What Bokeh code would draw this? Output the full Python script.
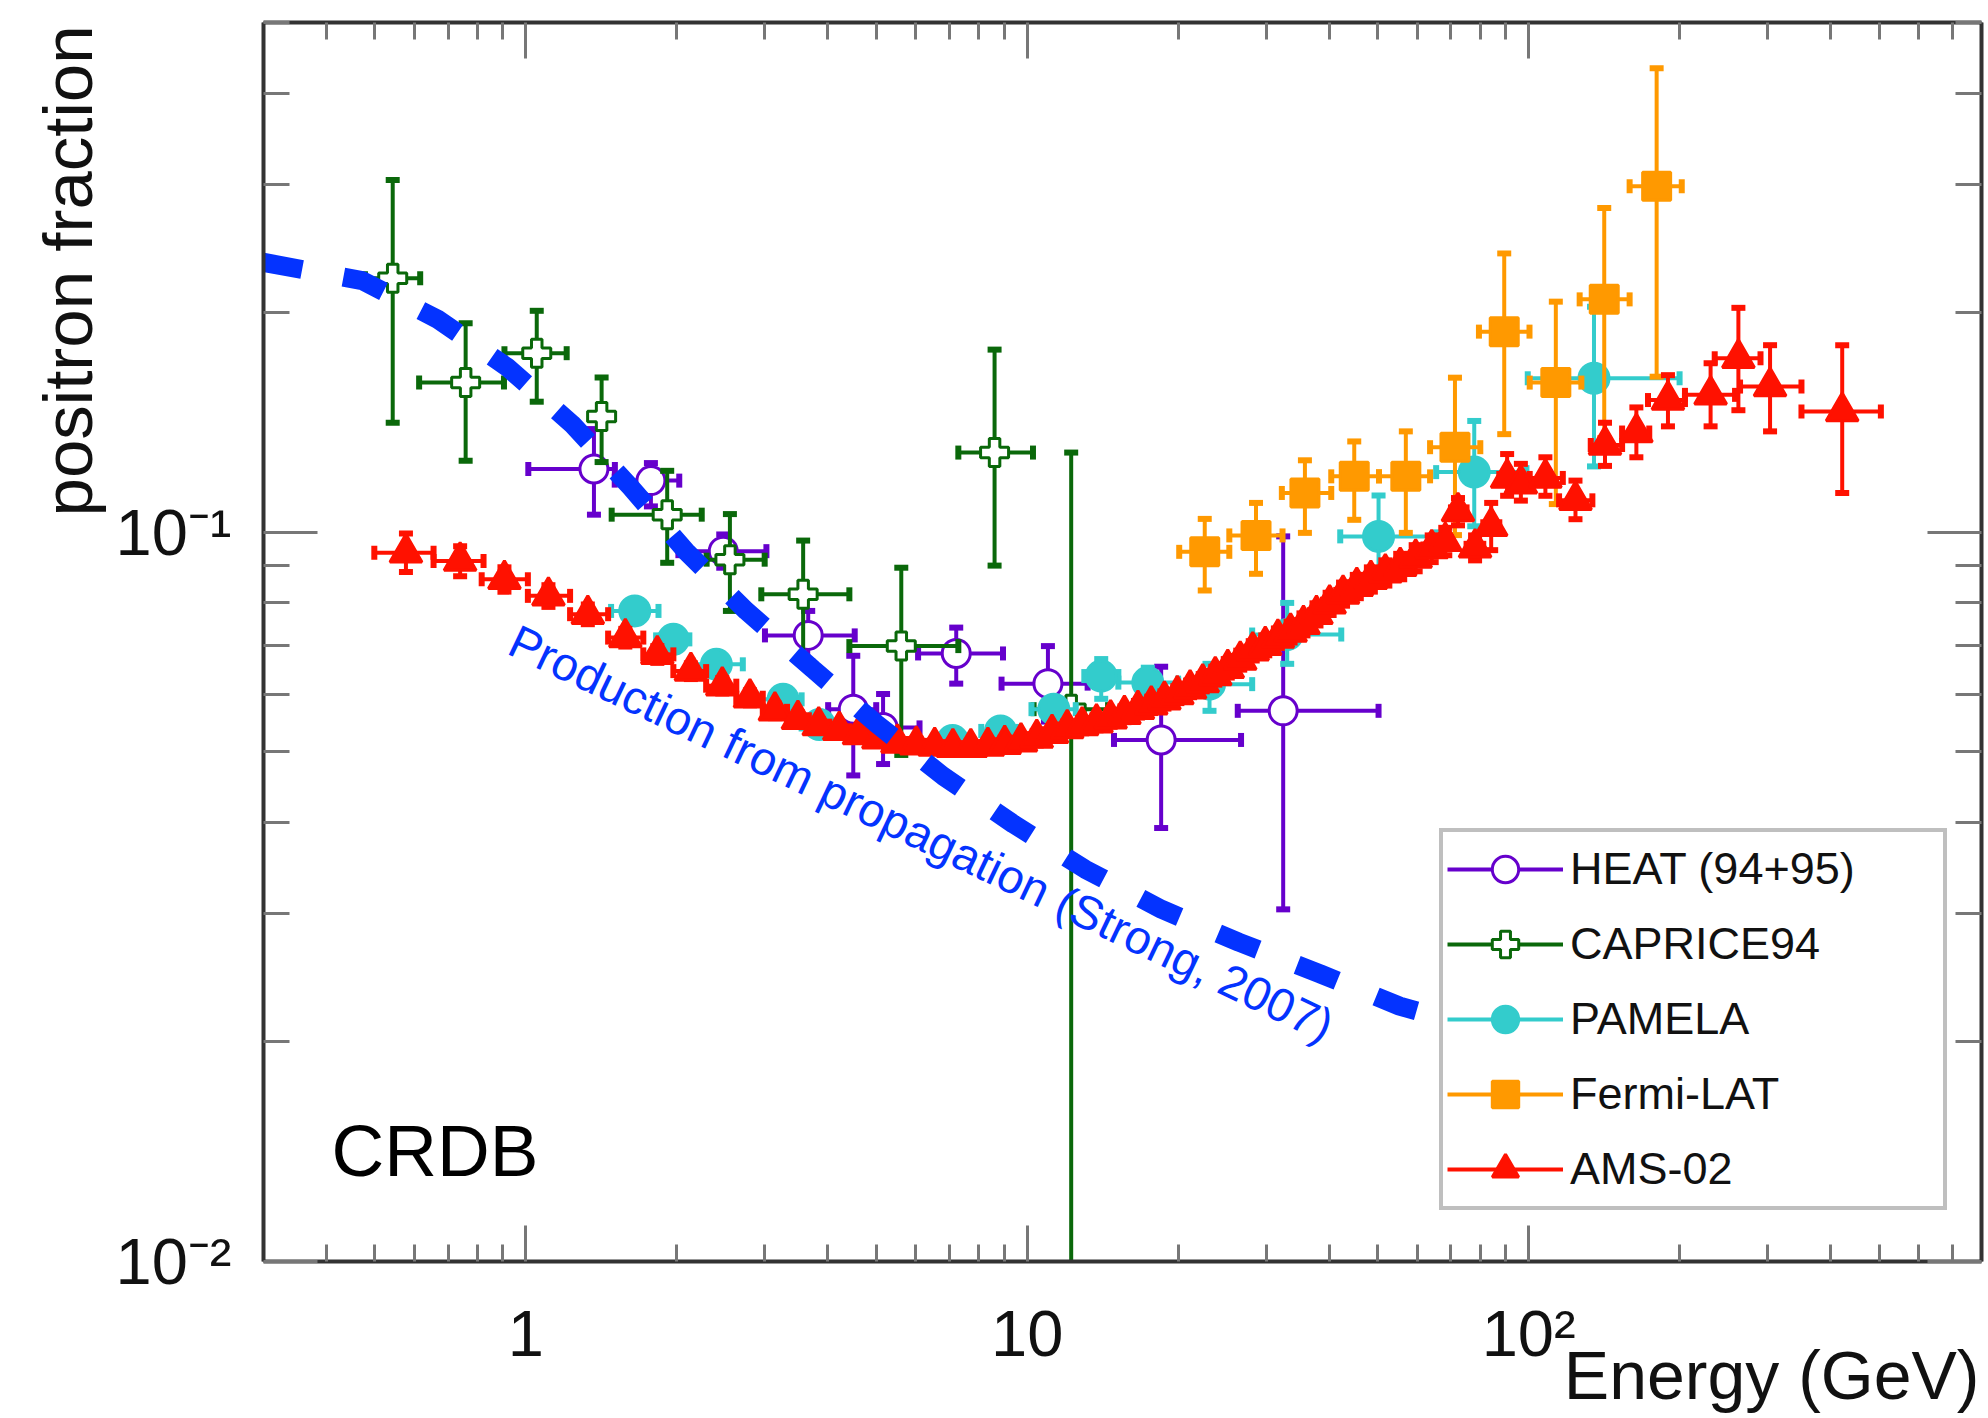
import math
from bokeh.plotting import figure
from bokeh.models import (Range1d, FixedTicker, LogAxis, Label, Legend, LegendItem,
                          CustomJSTickFormatter, Title)
from bokeh.embed import file_html
from bokeh.resources import INLINE

FONT = "Liberation Sans"

# ---------------- axes ----------------
x_major = [1, 10, 100]
x_minor = [0.3, 0.4, 0.5, 0.6, 0.7, 0.8, 0.9, 2, 3, 4, 5, 6, 7, 8, 9,
           20, 30, 40, 50, 60, 70, 80, 90, 200, 300, 400, 500, 600, 700, 800]
x_tick_labels = ["1", "10", "10²"]
y_major = [0.01, 0.1]
y_minor = [0.02, 0.03, 0.04, 0.05, 0.06, 0.07, 0.08, 0.09, 0.2, 0.3, 0.4, 0.5]
y_tick_labels = ["10⁻²", "10⁻¹"]

# ---------------- data ----------------
heat_e = [1.368, 1.777, 2.477, 3.659, 4.50, 5.16, 7.22, 11.0, 18.5, 32.4]
heat_elo = [1.012, 1.505, 2.016, 3.00, 4.01, 4.37, 6.06, 8.89, 14.9, 26.3]
heat_ehi = [1.506, 2.024, 3.02, 4.53, 5.0, 6.10, 8.95, 13.2, 26.7, 50.2]
heat_f = [0.1221, 0.1177, 0.0942, 0.0722, 0.0572, 0.054, 0.0682, 0.062, 0.0519, 0.0569]
heat_flo = [0.1057, 0.1085, 0.0894, 0.0665, 0.0464, 0.0481, 0.0620, 0.055, 0.0393, 0.0304]
heat_fhi = [0.1385, 0.1244, 0.0993, 0.078, 0.0677, 0.0600, 0.074, 0.0698, 0.0654, 0.0987]

cap_e = [0.543, 0.759, 1.052, 1.417, 1.915, 2.554, 3.575, 5.61, 8.61, 12.24]
cap_elo = [0.478, 0.613, 0.907, 1.417, 1.484, 2.295, 2.95, 4.42, 7.29, 10.3]
cap_ehi = [0.616, 0.905, 1.207, 1.417, 2.244, 2.996, 4.42, 7.29, 10.27, 14.5]
cap_f = [0.223, 0.1604, 0.176, 0.1441, 0.1057, 0.0917, 0.0822, 0.0698, 0.1286, 0.0572]
cap_flo = [0.1413, 0.1253, 0.151, 0.1248, 0.0908, 0.078, 0.067, 0.0495, 0.0900, 0.005]
cap_fhi = [0.304, 0.1934, 0.2012, 0.163, 0.1214, 0.1059, 0.0974, 0.0894, 0.178, 0.1286]

pam_e = [1.65, 1.97, 2.40, 3.26, 3.85, 7.1, 8.85, 11.3, 14.05, 17.4, 23.1, 33.0, 50.2, 77.9, 135]
pam_elo = [1.48, 1.82, 2.15, 2.95, 3.55, 6.5, 8.1, 10.2, 13.0, 15.2, 20.0, 28.1, 42.1, 65.4, 99.6]
pam_ehi = [1.84, 2.12, 2.71, 3.55, 4.2, 7.7, 9.6, 12.5, 15.2, 20.0, 28.1, 42.3, 65.4, 99.0, 200]
pam_f = [0.078, 0.0713, 0.0659, 0.059, 0.0545, 0.0518, 0.0534, 0.0572, 0.0635, 0.0622,
         0.0619, 0.0724, 0.0987, 0.1209, 0.1626]
pam_flo = [0.0768, 0.0703, 0.0649, 0.058, 0.0535, 0.0508, 0.0522, 0.0555, 0.0591, 0.060,
           0.0569, 0.066, 0.0866, 0.1019, 0.1231]
pam_fhi = [0.0792, 0.0723, 0.0669, 0.060, 0.0555, 0.0528, 0.0546, 0.0589, 0.0670, 0.0652,
           0.0660, 0.080, 0.1123, 0.1421, 0.2038]

fermi_e = [22.6, 28.6, 35.8, 44.9, 56.9, 71.3, 89.4, 113.3, 141.5, 180]
fermi_elo = [20.1, 25.3, 32.2, 40.4, 50.3, 63.6, 79.6, 100.5, 126.4, 159]
fermi_ehi = [25.3, 32.3, 40.4, 50.3, 63.6, 80.1, 100.4, 127.4, 159, 202]
fermi_f = [0.094, 0.099, 0.1132, 0.1193, 0.1193, 0.1308, 0.1884, 0.1604, 0.2086, 0.2981]
fermi_flo = [0.0832, 0.0877, 0.0998, 0.104, 0.0998, 0.0991, 0.1363, 0.1093, 0.1346, 0.1634]
fermi_fhi = [0.1043, 0.1097, 0.1255, 0.1332, 0.1375, 0.1629, 0.2412, 0.2071, 0.2783, 0.4326]

ams_e = [0.577, 0.740, 0.907, 1.11, 1.33, 1.58, 1.83, 2.135, 2.466, 2.80, 3.14, 3.49, 3.84,
         4.22, 4.62, 5.05, 5.51, 6.01, 6.54, 7.11, 7.72, 8.35, 9.02, 9.72, 10.45, 11.21,
         12.02, 12.87, 13.75, 14.67, 15.63, 16.63, 17.68, 18.78, 19.93, 21.13, 22.39,
         23.72, 25.12, 26.6, 28.17, 29.84, 31.62, 33.52, 35.56, 37.75, 40.1, 42.65, 45.43,
         48.46, 51.79, 55.45, 59.53, 64.08, 68.2,
         72.3, 78.2, 84.2, 90.6, 96.5, 108, 124, 142, 164, 189.6, 230.6, 262, 303, 422]
ams_elo = [0.499, 0.655, 0.817, 1.01, 1.226, 1.46, 1.716, 1.97, 2.29, 2.63, 2.97, 3.32, 3.67,
           4.03, 4.42, 4.83, 5.27, 5.76, 6.27, 6.82, 7.41, 8.03, 8.68, 9.36, 10.08, 10.82,
           11.61, 12.44, 13.30, 14.20, 15.14, 16.12, 17.15, 18.22, 19.34, 20.52, 21.75,
           23.04, 24.40, 25.84, 27.36, 28.98, 30.70, 32.54, 34.51, 36.62, 38.89, 41.34, 44.00,
           46.90, 50.07, 53.55, 57.40, 61.70, 66.50,
           70.0, 75.2, 81.2, 87.4, 93.8, 100.5, 115, 133, 153.6, 173, 205, 235, 264, 350]
ams_ehi = [0.655, 0.824, 1.01, 1.226, 1.46, 1.716, 1.97, 2.29, 2.63, 2.97, 3.32, 3.67, 4.03,
           4.42, 4.83, 5.27, 5.76, 6.27, 6.82, 7.41, 8.03, 8.68, 9.36, 10.08, 10.82, 11.61,
           12.44, 13.30, 14.20, 15.14, 16.12, 17.15, 18.22, 19.34, 20.52, 21.75, 23.04,
           24.40, 25.84, 27.36, 28.98, 30.70, 32.54, 34.51, 36.62, 38.89, 41.34, 44.00, 46.90,
           50.07, 53.55, 57.40, 61.70, 66.50, 70.0,
           75.2, 81.2, 87.4, 93.8, 100.5, 117, 134, 153.6, 174, 205, 258, 290, 350, 504]
ams_f = [0.0937, 0.0913, 0.0862, 0.0818, 0.0772, 0.0717, 0.068, 0.0645, 0.0616, 0.0593, 0.0569,
         0.0554, 0.0543,
         0.0535, 0.0528, 0.0521, 0.0514, 0.0511, 0.0509, 0.0507, 0.0507, 0.0509, 0.0512, 0.0516,
         0.0522, 0.0530, 0.0538, 0.0543, 0.0548, 0.0555, 0.0563, 0.0572, 0.0580, 0.0589, 0.0599,
         0.0610, 0.0622, 0.0636, 0.0651, 0.0668, 0.0688, 0.0700, 0.0716, 0.0730, 0.0748, 0.0772,
         0.0798, 0.0823, 0.0843, 0.0862, 0.0880, 0.0898, 0.0922, 0.0950, 0.0972,
         0.1068, 0.0952, 0.1019, 0.1187, 0.1165, 0.1187, 0.1106, 0.1317, 0.1370, 0.1518, 0.1543,
         0.1732, 0.1584, 0.1464]
ams_flo = [0.0882, 0.0870, 0.0829, 0.0790, 0.0748, 0.0697, 0.0662, 0.0629, 0.0601, 0.0579, 0.0556,
           0.0542, 0.0532,
           0.0525, 0.0518, 0.0511, 0.0504, 0.0501, 0.0499, 0.0497, 0.0497, 0.0499, 0.0501, 0.0505,
           0.0510, 0.0518, 0.0526, 0.0530, 0.0535, 0.0541, 0.0549, 0.0557, 0.0565, 0.0573, 0.0583,
           0.0594, 0.0605, 0.0618, 0.0632, 0.0648, 0.0667, 0.0678, 0.0694, 0.0706, 0.0722, 0.0745,
           0.0770, 0.0793, 0.0812, 0.0829, 0.0845, 0.0862, 0.0884, 0.0910, 0.0930,
           0.1022, 0.0915, 0.0945, 0.1122, 0.1105, 0.1122, 0.1042, 0.1233, 0.1267, 0.1397, 0.1397,
           0.1470, 0.1375, 0.1132]
ams_fhi = [0.0996, 0.0957, 0.0895, 0.0846, 0.0796, 0.0737, 0.0698, 0.0661, 0.0631, 0.0607, 0.0582,
           0.0566, 0.0554,
           0.0545, 0.0538, 0.0531, 0.0524, 0.0521, 0.0519, 0.0517, 0.0517, 0.0519, 0.0523, 0.0527,
           0.0534, 0.0542, 0.0550, 0.0556, 0.0561, 0.0569, 0.0577, 0.0587, 0.0595, 0.0605, 0.0615,
           0.0626, 0.0639, 0.0654, 0.0670, 0.0688, 0.0709, 0.0722, 0.0738, 0.0754, 0.0774, 0.0799,
           0.0826, 0.0853, 0.0874, 0.0895, 0.0915, 0.0934, 0.0960, 0.0990, 0.1014,
           0.1114, 0.0990, 0.1097, 0.1280, 0.1241, 0.1267, 0.1177, 0.1413, 0.1483, 0.1642, 0.1705,
           0.2031, 0.1805, 0.1805]

strong_e = [0.295, 0.472, 0.666, 0.920, 1.237, 1.617, 2.089, 2.754, 3.74, 5.01, 6.80, 9.39,
            13.06, 18.54, 26.45, 38.4, 55.3, 62.0]
strong_f = [0.235, 0.2213, 0.1961, 0.1683, 0.1407, 0.1154, 0.0941, 0.078, 0.0649, 0.0546,
            0.0463, 0.0398, 0.0345, 0.0304, 0.0274, 0.0248, 0.0224, 0.0219]

# ---------------- figure ----------------
p = figure(width=1986, height=1416, x_axis_type="log", y_axis_type="log",
           x_range=Range1d(0.3, 800), y_range=Range1d(0.01, 0.5),
           output_backend="svg", toolbar_location=None,
           min_border_left=263, min_border_right=5, min_border_top=22, min_border_bottom=155)
p.xgrid.visible = False
p.ygrid.visible = False
p.outline_line_color = None
p.background_fill_color = "white"
p.border_fill_color = "white"

xt = FixedTicker(ticks=x_major, minor_ticks=x_minor)
yt = FixedTicker(ticks=y_major, minor_ticks=y_minor)

AX_LINE = "#333333"
TICK = "#777777"


def style_axis(ax, major_len, minor_len):
    ax.axis_line_color = AX_LINE
    ax.axis_line_width = 4
    ax.major_tick_in = major_len
    ax.major_tick_out = 0
    ax.minor_tick_in = minor_len
    ax.minor_tick_out = 0
    ax.major_tick_line_color = TICK
    ax.minor_tick_line_color = TICK
    ax.major_tick_line_width = 3
    ax.minor_tick_line_width = 3
    ax.major_label_text_font = FONT
    ax.major_label_text_font_size = "65px"
    ax.major_label_text_color = "#111111"


bx = p.xaxis[0]
bx.ticker = xt
style_axis(bx, 36, 17)
bx.major_label_overrides = dict(zip(x_major, x_tick_labels))
bx.major_label_standoff = 35

ly = p.yaxis[0]
ly.ticker = yt
style_axis(ly, 54, 26)
ly.major_label_overrides = dict(zip(y_major, y_tick_labels))
ly.major_label_standoff = 32

p.add_layout(Title(text="Energy (GeV)", align="right", vertical_align="top", offset=2,
                   standoff=-72, text_font=FONT, text_font_size="68px",
                   text_font_style="normal", text_color="#111111"), "below")
p.add_layout(Title(text="positron fraction", align="right", vertical_align="bottom", offset=3,
                   standoff=12, text_font=FONT, text_font_size="69px",
                   text_font_style="normal", text_color="#111111"), "left")

top = LogAxis(ticker=xt, formatter=CustomJSTickFormatter(code="return ''"))
style_axis(top, 36, 17)
top.major_label_text_font_size = "1px"
top.major_label_standoff = 0
p.add_layout(top, "above")

ry = LogAxis(ticker=yt, formatter=CustomJSTickFormatter(code="return ''"))
style_axis(ry, 54, 26)
ry.major_label_text_font_size = "1px"
ry.major_label_standoff = 0
p.add_layout(ry, "right")

ERR_W = 4
CAP_S = 14
CAP_W = 6


def draw_series(E, Elo, Ehi, F, Flo, Fhi, color, marker, msize, fill):
    p.segment(x0=E, y0=Flo, x1=E, y1=Fhi, line_color=color, line_width=ERR_W)
    hs = p.segment(x0=Elo, y0=F, x1=Ehi, y1=F, line_color=color, line_width=ERR_W)
    ycx = [e for e, lo, f in zip(E, Flo, F) if lo < f] + [e for e, hi, f in zip(E, Fhi, F) if hi > f]
    ycy = [lo for lo, f in zip(Flo, F) if lo < f] + [hi for hi, f in zip(Fhi, F) if hi > f]
    p.scatter(x=ycx, y=ycy, marker="dash", size=CAP_S, line_color=color, line_width=CAP_W)
    xcx = [lo for lo, e in zip(Elo, E) if lo < e] + [hi for hi, e in zip(Ehi, E) if hi > e]
    xcy = [f for lo, e, f in zip(Elo, E, F) if lo < e] + [f for hi, e, f in zip(Ehi, E, F) if hi > e]
    p.scatter(x=xcx, y=xcy, marker="dash", angle=math.pi / 2, size=CAP_S,
              line_color=color, line_width=CAP_W)
    mk = p.scatter(x=E, y=F, marker=marker, size=msize, fill_color=fill,
                   line_color=color, line_width=3)
    return hs, mk


C_HEAT = "#6600cc"
C_CAP = "#0a680a"
C_PAM = "#33cccc"
C_FERMI = "#ff9900"
C_AMS = "#ff1100"
C_STRONG = "#0433ff"

r_heat = draw_series(heat_e, heat_elo, heat_ehi, heat_f, heat_flo, heat_fhi, C_HEAT, "circle", 28, "white")
r_cap = draw_series(cap_e, cap_elo, cap_ehi, cap_f, cap_flo, cap_fhi, C_CAP, "plus", 28, "white")
r_pam = draw_series(pam_e, pam_elo, pam_ehi, pam_f, pam_flo, pam_fhi, C_PAM, "circle", 30, C_PAM)
r_fermi = draw_series(fermi_e, fermi_elo, fermi_ehi, fermi_f, fermi_flo, fermi_fhi, C_FERMI, "square", 28, C_FERMI)
r_ams = draw_series(ams_e, ams_elo, ams_ehi, ams_f, ams_flo, ams_fhi, C_AMS, "triangle", 32, C_AMS)

p.line(x=strong_e, y=strong_f, line_color=C_STRONG, line_width=19, line_dash="43 42")

p.add_layout(Label(x=0.94, y=0.0716, text="Production from propagation (Strong, 2007)",
                   angle=-25.5, angle_units="deg", text_font=FONT, text_font_size="47px",
                   text_color=C_STRONG, text_baseline="alphabetic", text_align="left"))

p.add_layout(Label(x=68, y=111, x_units="screen", y_units="screen", text="CRDB",
                   text_font=FONT, text_font_size="73px", text_color="#000000",
                   text_baseline="alphabetic", text_align="left"))

legend = Legend(items=[
    LegendItem(label="HEAT (94+95)", renderers=list(r_heat)),
    LegendItem(label="CAPRICE94", renderers=list(r_cap)),
    LegendItem(label="PAMELA", renderers=list(r_pam)),
    LegendItem(label="Fermi-LAT", renderers=list(r_fermi)),
    LegendItem(label="AMS-02", renderers=list(r_ams)),
], location=(1176, 51))
legend.border_line_color = "#808080"
legend.border_line_width = 4
legend.background_fill_color = "white"
legend.background_fill_alpha = 1.0
legend.padding = 4
legend.spacing = 9
legend.margin = 0
legend.glyph_height = 66
legend.glyph_width = 116
legend.label_standoff = 7
legend.label_width = 369
legend.label_text_font = FONT
legend.label_text_font_size = "45px"
legend.label_text_color = "#111111"
p.add_layout(legend, "center")

open("out.html", "w").write(file_html(p, INLINE))
